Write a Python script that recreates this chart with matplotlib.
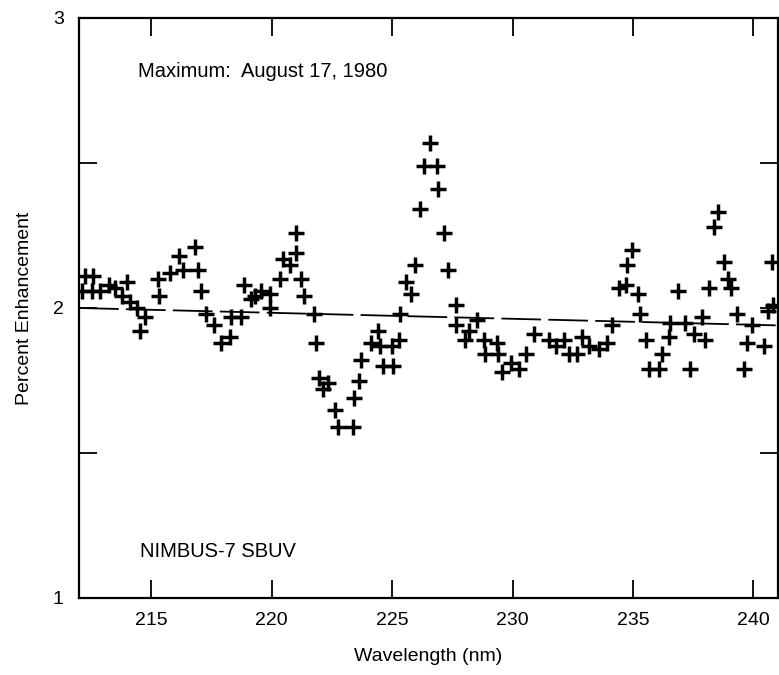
import matplotlib
matplotlib.use("Agg")
import matplotlib.pyplot as plt
from matplotlib.ticker import FixedLocator, NullFormatter

plt.rcParams['font.family'] = ['Liberation Sans', 'DejaVu Sans']

# Data
wavelength = [212.11, 212.25, 212.53, 212.59, 212.87, 213.26, 213.49, 213.77, 213.98, 214.11,
              214.39, 214.53, 214.73, 215.29, 215.31, 215.77, 216.16, 216.32, 216.81, 216.94,
              217.05, 217.29, 217.61, 217.91, 218.26, 218.32, 218.74, 218.84, 219.15, 219.29,
              219.57, 219.91, 219.95, 220.33, 220.46, 220.74, 220.99, 221.00, 221.23, 221.36,
              221.74, 221.85, 221.98, 222.12, 222.33, 222.61, 222.74, 223.36, 223.43, 223.64,
              223.71, 224.13, 224.40, 224.51, 224.64, 225.01, 225.03, 225.30, 225.34, 225.58,
              225.78, 225.96, 226.16, 226.33, 226.57, 226.88, 226.90, 227.16, 227.34, 227.65,
              227.67, 228.03, 228.20, 228.54, 228.82, 228.84, 229.37, 229.39, 229.58, 229.92,
              230.27, 230.55, 230.89, 231.51, 231.79, 232.13, 232.34, 232.69, 232.89, 233.17,
              233.58, 233.93, 234.14, 234.41, 234.69, 234.76, 234.94, 235.21, 235.31, 235.54,
              235.65, 236.07, 236.21, 236.48, 236.55, 236.87, 237.17, 237.38, 237.52, 237.86,
              238.00, 238.14, 238.37, 238.51, 238.76, 238.93, 239.07, 239.33, 239.59, 239.75,
              239.96, 240.46, 240.62, 240.79, 240.83]
enhancement = [2.06, 2.11, 2.06, 2.11, 2.06, 2.08, 2.07, 2.04, 2.09, 2.02,
               2.00, 1.92, 1.97, 2.10, 2.04, 2.12, 2.18, 2.13, 2.21, 2.13,
               2.06, 1.98, 1.94, 1.88, 1.90, 1.97, 1.97, 2.08, 2.03, 2.04,
               2.06, 2.05, 2.00, 2.10, 2.17, 2.15, 2.19, 2.26, 2.10, 2.04,
               1.98, 1.88, 1.76, 1.72, 1.74, 1.65, 1.59, 1.59, 1.69, 1.75,
               1.82, 1.88, 1.92, 1.87, 1.80, 1.87, 1.80, 1.89, 1.98, 2.09,
               2.05, 2.15, 2.34, 2.49, 2.57, 2.49, 2.41, 2.26, 2.13, 2.01,
               1.94, 1.89, 1.92, 1.96, 1.89, 1.84, 1.88, 1.84, 1.78, 1.81,
               1.79, 1.84, 1.91, 1.89, 1.87, 1.89, 1.84, 1.84, 1.90, 1.87,
               1.86, 1.88, 1.94, 2.07, 2.08, 2.15, 2.20, 2.05, 1.98, 1.89,
               1.79, 1.79, 1.84, 1.90, 1.95, 2.06, 1.95, 1.79, 1.91, 1.97,
               1.89, 2.07, 2.28, 2.33, 2.16, 2.10, 2.07, 1.98, 1.79, 1.88,
               1.94, 1.87, 1.99, 2.16, 2.01]

trend_x = [212, 241]
trend_y = [2.00, 1.94]

xticks = [215, 220, 225, 230, 235, 240]
yticks = [1, 2, 3]
yminor = [1.5, 2.5]

fig = plt.figure(figsize=(7.79, 6.75), dpi=100)
ax = fig.add_axes([79/779, 77/675, 698.5/779, 580/675])

ax.plot(trend_x, trend_y, color='black', lw=1.3, linestyle=(0, (22, 4)))
ax.plot(wavelength, enhancement, linestyle='none', marker='+', color='black',
        markersize=11.5, markeredgewidth=2.5)

ax.set_xlim(212, 241)
ax.set_ylim(1, 3)
ax.set_xticks(xticks)
ax.set_xticklabels([str(t) for t in xticks])
ax.set_yticks(yticks)
ax.set_yticklabels([str(t) for t in yticks])
ax.yaxis.set_minor_locator(FixedLocator(yminor))
ax.yaxis.set_minor_formatter(NullFormatter())

ax.tick_params(axis='both', which='both', direction='in', top=True, right=True,
               length=13, width=1.3, labelsize=14, pad=10, colors='black')
ax.tick_params(axis='y', which='major', length=13, pad=11)
for s in ax.spines.values():
    s.set_linewidth(1.6)

ax.set_xlabel('Wavelength (nm)', fontsize=14)
ax.xaxis.set_label_coords(0.5, -0.1017)
ax.xaxis.label.set_verticalalignment('center')
ax.set_ylabel('Percent Enhancement', fontsize=14)
ax.yaxis.set_label_coords(-0.0787, 0.5)
ax.yaxis.label.set_verticalalignment('center')

ax.text(0.0845, 0.898, 'Maximum:  August 17, 1980', transform=ax.transAxes,
        fontsize=14.5, va='baseline', ha='left')
ax.text(0.0873, 0.0707, 'NIMBUS-7 SBUV', transform=ax.transAxes,
        fontsize=14.5, va='baseline', ha='left')

fig.savefig('out.png', dpi=100)
